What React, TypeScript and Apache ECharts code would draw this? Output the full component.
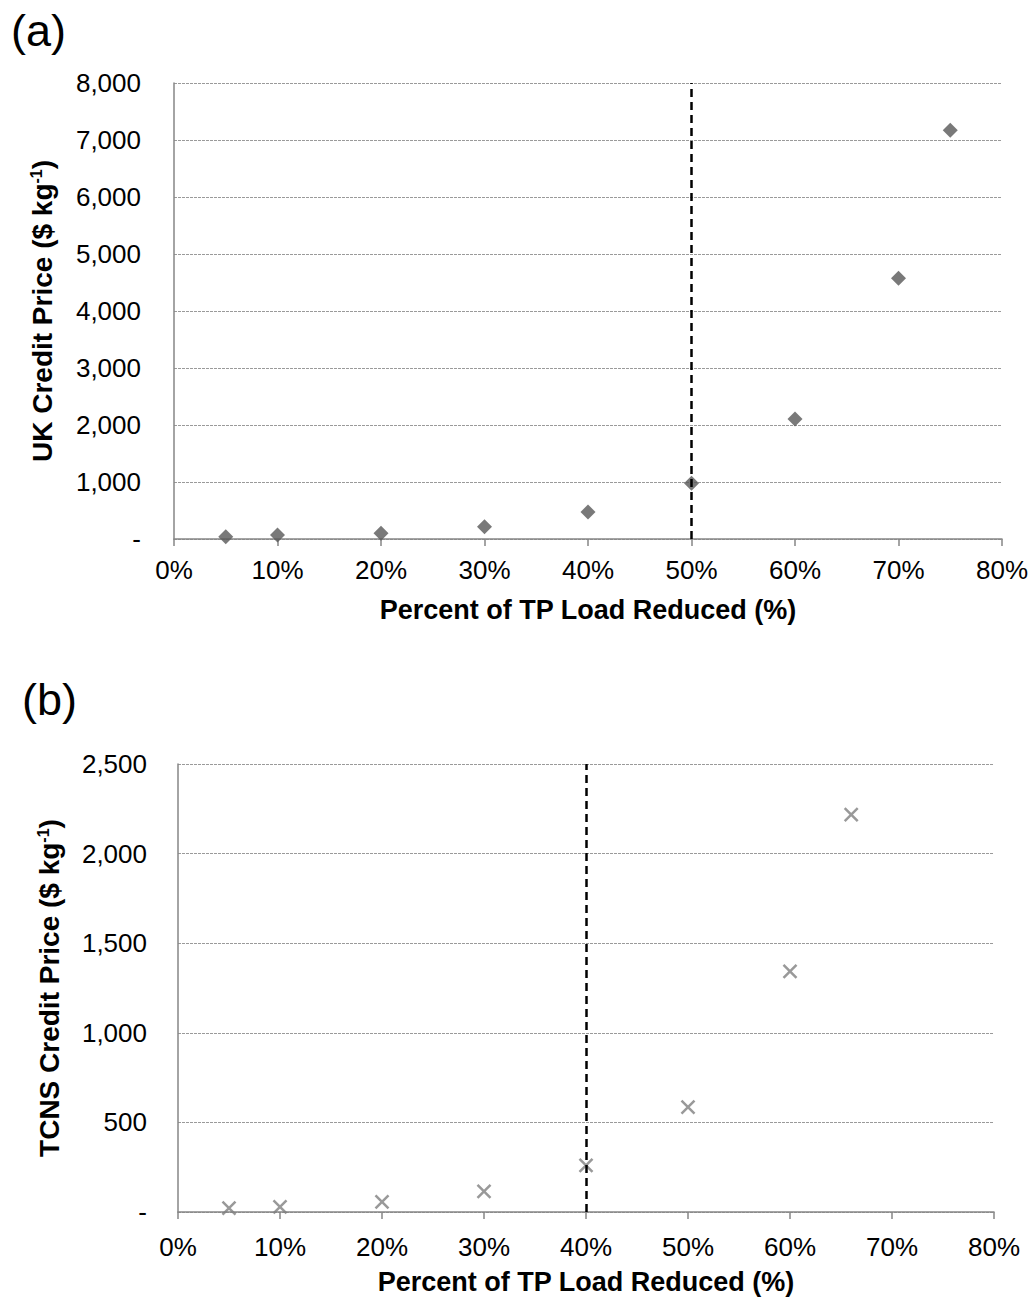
import React, { useEffect, useRef } from "react";
import * as echarts from "echarts";

const pctA = [5, 10, 20, 30, 40, 50, 60, 70, 75];
const ukPrice = [40, 70, 100, 216, 474, 977, 2105, 4574, 7170];
const pctB = [5, 10, 20, 30, 40, 50, 60, 66];
const tcnsPrice = [22, 28, 56, 115, 260, 585, 1343, 2218];
const thresholdA = 50;
const thresholdB = 40;
const xTitle = "Percent of TP Load Reduced (%)";

const FONT = "Liberation Sans, Arial, sans-serif";
const AXIS_GRAY = "#868686";

const fmtY = (v: number) => (v === 0 ? "-" : v.toLocaleString("en-US"));

export default function App() {
  const ref = useRef<HTMLDivElement>(null);
  useEffect(() => {
    document.body.style.margin = "0";
    const chart = echarts.init(ref.current!, null, { renderer: "svg" });
    const xAxisBase = (gridIndex: number, labelMargin: number, nameGap: number) => ({
      type: "value",
      gridIndex,
      min: 0,
      max: 80,
      interval: 10,
      name: xTitle,
      nameLocation: "middle",
      nameGap,
      nameTextStyle: { fontFamily: FONT, fontSize: 27, fontWeight: "bold", color: "#000" },
      axisLine: { show: true, lineStyle: { color: AXIS_GRAY, width: 1.5 } },
      axisTick: { show: true, length: 7, inside: false, lineStyle: { color: AXIS_GRAY, width: 1.5 } },
      axisLabel: { formatter: "{value}%", fontFamily: FONT, fontSize: 26, color: "#000", margin: labelMargin },
      splitLine: { show: false },
    });
    const yAxisBase = (
      gridIndex: number,
      max: number,
      interval: number,
      title: string,
      gap: number,
      labelMargin: number
    ) => ({
      type: "value",
      gridIndex,
      min: 0,
      max,
      interval,
      name: `{a|${title} ($ kg}{s|-1}{a|)}`,
      nameLocation: "middle",
      nameGap: gap,
      nameTextStyle: {
        rich: {
          a: { fontFamily: FONT, fontSize: 28, fontWeight: "bold", color: "#000" },
          s: { fontFamily: FONT, fontSize: 16, fontWeight: "bold", color: "#000", padding: [0, 0, 13, 0] },
        },
      },
      axisLine: { show: true, lineStyle: { color: AXIS_GRAY, width: 1.5 } },
      axisTick: { show: false },
      axisLabel: { formatter: fmtY, fontFamily: FONT, fontSize: 26, color: "#000", margin: labelMargin },
      splitLine: { show: true, lineStyle: { color: "#9a9a9a", type: [3, 1], width: 1 } },
    });
    const markLine = (x: number) => ({
      silent: true,
      symbol: "none",
      label: { show: false },
      lineStyle: { color: "#000", type: [8, 5], width: 2.5 },
      data: [{ xAxis: x }],
    });
    chart.setOption({
      animation: false,
      backgroundColor: "#fff",
      grid: [
        { left: 174, right: 34, top: 83, height: 456 },
        { left: 178, right: 42, top: 764, height: 448 },
      ],
      xAxis: [xAxisBase(0, 18, 57), xAxisBase(1, 22, 56)],
      yAxis: [
        yAxisBase(0, 8000, 1000, "UK Credit Price", 117, 33),
        yAxisBase(1, 2500, 500, "TCNS Credit Price", 114, 31),
      ],
      graphic: [
        { type: "text", left: 11, top: 8, style: { text: "(a)", fontFamily: FONT, fontSize: 45, fill: "#000" } },
        { type: "text", left: 22, top: 677, style: { text: "(b)", fontFamily: FONT, fontSize: 45, fill: "#000" } },
      ],
      series: [
        {
          type: "scatter",
          xAxisIndex: 0,
          yAxisIndex: 0,
          symbol: "diamond",
          symbolSize: 15,
          itemStyle: { color: "#585858" },
          data: pctA.map((x, i) => [x, ukPrice[i]]),
          markLine: markLine(thresholdA),
          z: 3,
        },
        {
          type: "scatter",
          xAxisIndex: 1,
          yAxisIndex: 1,
          symbol: "path://M0,0L10,10M10,0L0,10",
          symbolSize: 13,
          itemStyle: { color: "transparent", borderColor: "#808080", borderWidth: 2.5 },
          data: pctB.map((x, i) => [x, tcnsPrice[i]]),
          markLine: markLine(thresholdB),
          z: 3,
        },
      ],
    });
    return () => chart.dispose();
  }, []);
  return <div ref={ref} style={{ position: "absolute", left: 0, top: 0, width: 1036, height: 1302 }} />;
}
